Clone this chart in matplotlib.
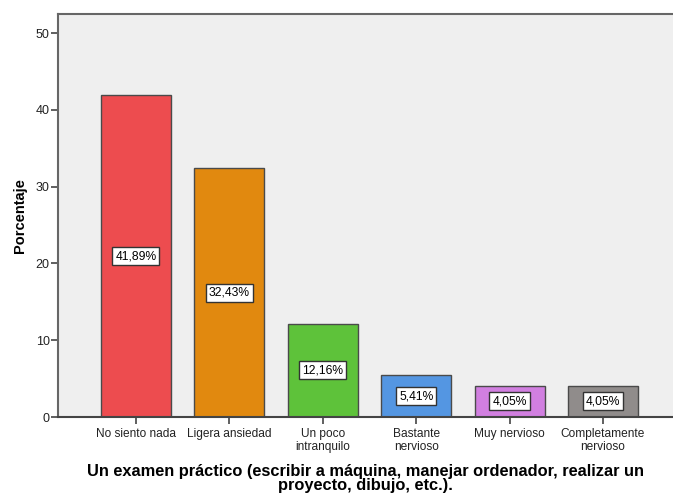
import matplotlib
matplotlib.use("Agg")
import matplotlib.pyplot as plt

categories = ["No siento nada", "Ligera ansiedad", "Un poco\nintranquilo",
              "Bastante\nnervioso", "Muy nervioso", "Completamente\nnervioso"]
percentages = [41.89, 32.43, 12.16, 5.41, 4.05, 4.05]
value_labels = ["41,89%", "32,43%", "12,16%", "5,41%", "4,05%", "4,05%"]
bar_colors = ["#ED4C4F", "#E1890F", "#5EC23A", "#5496E2", "#D17FE0", "#908C8B"]
y_ticks = [0, 10, 20, 30, 40, 50]

plt.rcParams["font.family"] = ["Liberation Sans", "DejaVu Sans"]

fig = plt.figure(figsize=(6.73, 4.96), dpi=100)
ax = fig.add_axes([58 / 673, 1 - 417 / 496, 1 - 58 / 673, (417 - 14) / 496])
ax.set_facecolor("#EFEFEF")

x = list(range(len(categories)))
ax.bar(x, percentages, width=0.75, color=bar_colors, edgecolor="#4A4A4A",
       linewidth=1.0, zorder=2)

for xi, v, lab in zip(x, percentages, value_labels):
    ax.text(xi, v / 2, lab, ha="center", va="center", fontsize=8.7, color="black",
            zorder=3,
            bbox=dict(boxstyle="square,pad=0.25", facecolor="white",
                      edgecolor="#333333", linewidth=1.0))

ax.set_xlim(-0.834, 5.75)
ax.set_ylim(0, 52.5)
ax.set_yticks(y_ticks)
ax.set_yticklabels([str(t) for t in y_ticks], fontsize=9, color="#222222")
ax.set_xticks(x)
ax.set_xticklabels(categories, fontsize=8.6, color="#222222", linespacing=1.05)

ax.tick_params(axis="both", direction="out", length=5, width=1.2, color="#444444")
ax.tick_params(axis="x", pad=3)
ax.tick_params(axis="y", pad=1)

for side in ["left", "top", "bottom"]:
    ax.spines[side].set_color("#666666")
    ax.spines[side].set_linewidth(1.5)
ax.spines["right"].set_visible(False)
ax.spines["bottom"].set_color("#444444")

ax.set_ylabel("Porcentaje", fontsize=10.5, fontweight="bold", labelpad=6)
ax.set_xlabel("Un examen práctico (escribir a máquina, manejar ordenador, realizar un\nproyecto, dibujo, etc.).",
              fontsize=11.8, fontweight="bold", labelpad=8, linespacing=0.92)

fig.savefig("out.png", dpi=100, facecolor="white")
